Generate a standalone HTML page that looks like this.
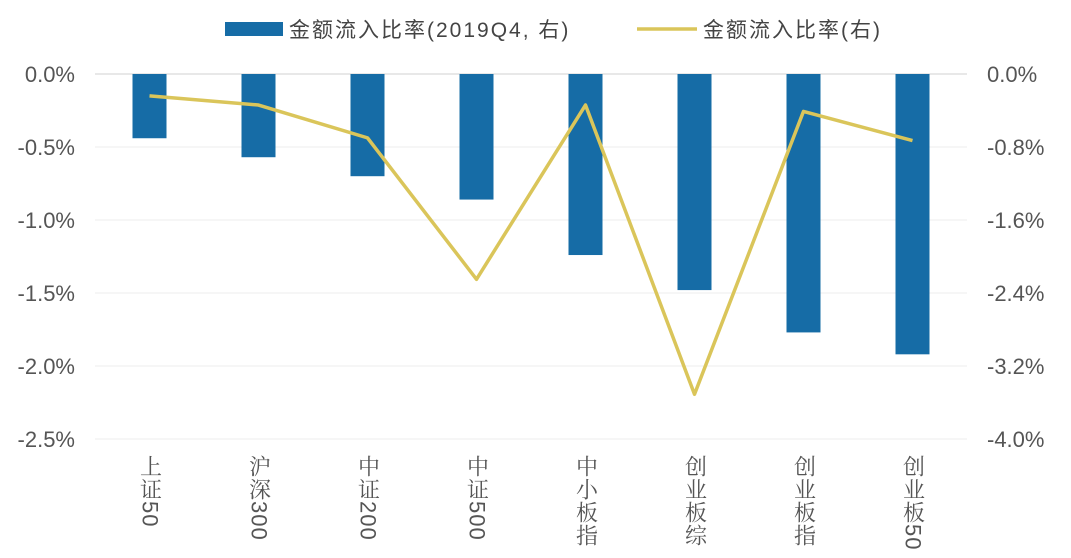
<!DOCTYPE html>
<html><head><meta charset="utf-8"><style>
body{margin:0;background:#fff;width:1071px;height:558px;overflow:hidden;font-family:"Liberation Sans","Noto Sans CJK SC",sans-serif}
svg text{font-family:"Liberation Sans","Noto Sans CJK SC",sans-serif}
.cat{position:absolute;top:455px;writing-mode:vertical-rl;text-orientation:mixed;font-size:22px;color:#555;font-family:"Liberation Sans","Noto Serif CJK SC",serif;line-height:22px;width:22px;letter-spacing:1px}
</style></head><body>
<svg id="chart" width="1071" height="558" style="position:absolute;left:0;top:0"></svg>
<div id="cats"></div>
<script>
const categories=["上证50","沪深300","中证200","中证500","中小板指","创业板综","创业板指","创业板50"];
const barValues=[-0.44,-0.57,-0.70,-0.86,-1.24,-1.48,-1.77,-1.92];
const lineValues=[-0.24,-0.34,-0.70,-2.25,-0.34,-3.51,-0.41,-0.73];
const leftTicks=["0.0%","-0.5%","-1.0%","-1.5%","-2.0%","-2.5%"];
const rightTicks=["0.0%","-0.8%","-1.6%","-2.4%","-3.2%","-4.0%"];
const NS="http://www.w3.org/2000/svg";
const svg=document.getElementById('chart');
const x0=95,x1=967,yTop=74,yBot=439;
const band=(x1-x0)/categories.length;
const xc=i=>x0+band*(i+0.5);
const yL=v=>yTop+(v/-2.5)*(yBot-yTop);
const yR=v=>yTop+(v/-4.0)*(yBot-yTop);
function mk(t,a){const e=document.createElementNS(NS,t);for(const k in a)e.setAttribute(k,a[k]);svg.appendChild(e);return e;}
leftTicks.forEach((t,i)=>{const y=yTop+i*(yBot-yTop)/5;
 const g=mk('line',{x1:x0,x2:x1,y1:y,y2:y,stroke:i==0?'#d0d0d0':'#eeeeee','stroke-width':1});
 
 const a=mk('text',{x:75,y:y+8,'text-anchor':'end','font-size':22,fill:'#555'});a.textContent=t;
 
 const b=mk('text',{x:987,y:y+8,'text-anchor':'start','font-size':22,fill:'#555'});b.textContent=rightTicks[i];
 
});
barValues.forEach((v,i)=>{const r=mk('rect',{x:xc(i)-17,y:yL(0),width:34,height:yL(v)-yL(0),fill:'#166ca6'});
 });
const pl=mk('polyline',{points:lineValues.map((v,i)=>xc(i)+','+yR(v)).join(' '),fill:'none',stroke:'#dac55a','stroke-width':3.5,'stroke-linejoin':'round'});

const lr=mk('rect',{x:225,y:22,width:58,height:14,fill:'#166ca6'});

const lt=mk('text',{x:289,y:37,'font-size':21,'letter-spacing':2,fill:'#444'});lt.textContent='金额流入比率(2019Q4, 右)';

const ll=mk('line',{x1:637,x2:697,y1:29,y2:29,stroke:'#dac55a','stroke-width':3.5});

const lt2=mk('text',{x:703,y:37,'font-size':21,'letter-spacing':2,fill:'#444'});lt2.textContent='金额流入比率(右)';

const cd=document.getElementById('cats');
categories.forEach((c,i)=>{const d=document.createElement('div');d.className='cat';d.style.left=(xc(i)-11)+'px';d.textContent=c;
 
 
 cd.appendChild(d);});
</script>
</body></html>
